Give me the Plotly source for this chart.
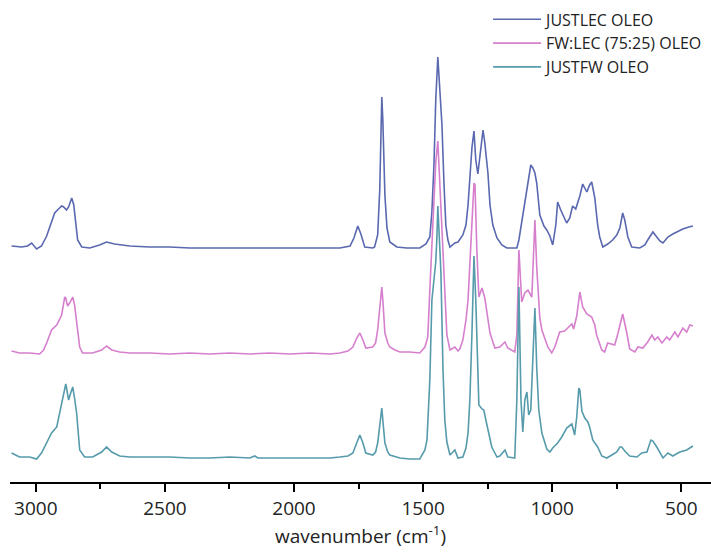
import plotly.graph_objects as go

# ---- JUSTLEC OLEO (top trace, offset intensities, arbitrary units) ----
lec_wn = [3094, 3055, 3032, 3016, 2997, 2978, 2958, 2939, 2927, 2916, 2900, 2892, 2881, 2873, 2861, 2853,
          2846, 2838, 2822, 2791, 2753, 2726, 2695, 2636, 2559, 2482, 2404, 2327, 2249, 2171, 2094, 2016,
          1938, 1861, 1822, 1783, 1768, 1753, 1741, 1726, 1695, 1688, 1676, 1668, 1660, 1656, 1648, 1640,
          1629, 1602, 1563, 1513, 1489, 1474, 1466, 1458, 1451, 1443, 1435, 1427, 1419, 1412, 1404, 1396,
          1377, 1365, 1346, 1334, 1326, 1319, 1311, 1303, 1296, 1288, 1280, 1268, 1261, 1249, 1241, 1230,
          1214, 1195, 1176, 1137, 1129, 1118, 1106, 1094, 1083, 1075, 1067, 1060, 1048, 1032, 1021, 1009,
          998, 986, 979, 967, 955, 944, 932, 921, 909, 893, 882, 866, 855, 847, 835, 824,
          816, 804, 785, 766, 750, 738, 727, 719, 707, 692, 661, 641, 630, 610, 595, 583,
          571, 552, 533, 517, 494, 471, 455]
lec_int = [236, 235, 236, 239, 233, 236, 246, 260, 269, 272, 276, 275, 272, 275, 284, 277,
           257, 242, 235, 234, 237, 240, 238, 236, 235, 235, 234, 234, 234, 234, 234, 234,
           234, 234, 234, 236, 244, 256, 248, 235, 234, 235, 247, 292, 385, 362, 287, 254,
           240, 235, 234, 234, 238, 245, 270, 317, 382, 425, 392, 357, 297, 257, 242, 235,
           239, 240, 247, 257, 277, 307, 334, 351, 322, 308, 324, 352, 339, 309, 277, 257,
           244, 237, 234, 234, 242, 259, 279, 297, 317, 314, 309, 299, 267, 256, 252, 246,
           237, 257, 280, 272, 265, 259, 264, 276, 273, 286, 298, 290, 297, 300, 284, 257,
           245, 235, 238, 242, 247, 254, 269, 262, 245, 235, 234, 237, 242, 250, 245, 241,
           239, 245, 248, 250, 253, 255, 256]

# ---- FW:LEC (75:25) OLEO (middle trace) ----
mix_wn = [3094, 3063, 3024, 2985, 2970, 2958, 2939, 2919, 2900, 2888, 2884, 2877, 2869, 2857, 2850, 2842,
          2830, 2819, 2780, 2745, 2726, 2706, 2675, 2636, 2559, 2482, 2404, 2327, 2249, 2171, 2094, 2016,
          1938, 1861, 1822, 1791, 1772, 1757, 1745, 1733, 1722, 1695, 1684, 1676, 1668, 1660, 1656, 1648,
          1637, 1629, 1609, 1590, 1552, 1513, 1493, 1482, 1474, 1466, 1458, 1451, 1443, 1435, 1427, 1419,
          1408, 1396, 1377, 1365, 1358, 1346, 1334, 1326, 1319, 1311, 1303, 1299, 1292, 1284, 1272, 1261,
          1249, 1241, 1222, 1203, 1183, 1172, 1145, 1137, 1129, 1121, 1118, 1106, 1094, 1079, 1072, 1067,
          1060, 1048, 1040, 1029, 1017, 1002, 990, 971, 952, 940, 924, 917, 905, 893, 882, 866,
          847, 835, 828, 808, 797, 785, 766, 758, 746, 735, 727, 711, 700, 680, 668, 649,
          630, 614, 603, 591, 575, 556, 545, 525, 513, 494, 479, 467, 455]
mix_int = [131, 129, 129, 128, 132, 139, 152, 157, 167, 185, 184, 176, 179, 185, 177, 162,
           135, 129, 129, 132, 136, 132, 130, 129, 129, 128, 129, 128, 129, 128, 129, 128,
           129, 128, 129, 131, 135, 144, 149, 142, 134, 135, 139, 152, 177, 195, 182, 149,
           139, 135, 132, 130, 130, 129, 135, 145, 192, 242, 287, 320, 341, 297, 267, 212,
           147, 132, 135, 131, 133, 142, 162, 182, 217, 257, 299, 297, 232, 185, 194, 184,
           164, 149, 134, 135, 140, 134, 130, 147, 232, 197, 180, 189, 192, 185, 222, 262,
           215, 164, 152, 144, 135, 129, 135, 150, 151, 154, 158, 153, 166, 190, 175, 168,
           165, 157, 147, 132, 130, 139, 138, 137, 148, 160, 168, 149, 133, 130, 135, 134,
           140, 147, 142, 145, 139, 145, 142, 150, 145, 154, 150, 157, 156]

# ---- JUSTFW OLEO (bottom trace) ----
fw_wn = [3094, 3063, 3024, 2997, 2978, 2966, 2954, 2939, 2919, 2908, 2896, 2884, 2881, 2873, 2865, 2857,
         2850, 2842, 2830, 2811, 2780, 2745, 2726, 2706, 2675, 2636, 2559, 2482, 2404, 2327, 2249, 2171,
         2152, 2140, 2094, 2016, 1938, 1861, 1822, 1791, 1772, 1757, 1745, 1733, 1722, 1695, 1684, 1676,
         1668, 1660, 1656, 1648, 1637, 1629, 1590, 1552, 1513, 1493, 1485, 1482, 1474, 1466, 1458, 1451,
         1447, 1443, 1435, 1431, 1423, 1416, 1408, 1396, 1377, 1365, 1346, 1334, 1326, 1319, 1311, 1303,
         1296, 1292, 1284, 1272, 1265, 1257, 1241, 1234, 1214, 1203, 1183, 1172, 1145, 1137, 1129, 1121,
         1114, 1106, 1098, 1091, 1083, 1075, 1067, 1060, 1052, 1040, 1029, 1021, 1009, 998, 979, 963,
         944, 924, 913, 905, 897, 893, 885, 874, 862, 855, 843, 824, 808, 789, 769, 750,
         738, 731, 719, 700, 672, 653, 633, 618, 610, 595, 571, 552, 533, 506, 479, 455]
fw_int = [29, 25, 25, 23, 29, 35, 42, 49, 55, 69, 82, 98, 94, 82, 89, 95,
          84, 69, 32, 25, 25, 30, 35, 30, 26, 25, 25, 25, 24, 24, 25, 24,
          26, 24, 24, 24, 24, 24, 25, 26, 29, 39, 47, 39, 29, 27, 30, 39,
          57, 74, 62, 39, 30, 27, 24, 23, 23, 32, 42, 62, 102, 182, 207, 220,
          242, 276, 232, 209, 112, 62, 40, 27, 32, 24, 25, 34, 49, 82, 147, 226,
          182, 147, 77, 73, 72, 62, 44, 35, 25, 26, 32, 25, 24, 82, 195, 82,
          50, 82, 90, 67, 72, 122, 174, 115, 72, 49, 39, 33, 30, 34, 39, 45,
          54, 58, 47, 65, 94, 92, 71, 64, 60, 55, 42, 35, 26, 24, 27, 30,
          35, 35, 31, 26, 25, 29, 30, 42, 41, 35, 24, 29, 26, 30, 32, 36]

series_names = ["JUSTLEC OLEO", "FW:LEC (75:25) OLEO", "JUSTFW OLEO"]
series_colors = ["#5a68b0", "#d67fcd", "#569bab"]

x_ticks = [3000, 2500, 2000, 1500, 1000, 500]
x_ticklabels = ["3000", "2500", "2000", "1500", "1000", "500"]

fig = go.Figure()
for name, wn, inten, col in zip(series_names, [lec_wn, mix_wn, fw_wn],
                                [lec_int, mix_int, fw_int], series_colors):
    fig.add_trace(go.Scatter(x=wn, y=inten, mode="lines", name=name,
                             line=dict(color=col, width=1.6)))

font_family = "Open Sans, Noto Sans, sans-serif"
fig.update_layout(
    width=711, height=552,
    margin=dict(l=10, r=0, t=0, b=70),
    plot_bgcolor="white", paper_bgcolor="white",
    font=dict(family=font_family, color="#222222"),
    legend=dict(x=0.682, y=0.995, xref="paper", yref="paper",
                xanchor="left", yanchor="top",
                font=dict(family=font_family, size=16, color="#222222"),
                bgcolor="rgba(0,0,0,0)", itemwidth=48, tracegroupgap=0),
    xaxis=dict(range=[3100, 385], tickvals=x_ticks, ticktext=x_ticklabels,
               ticks="outside", ticklen=8, tickwidth=1.5, tickcolor="black",
               showline=True, linecolor="black", linewidth=2,
               showgrid=False, zeroline=False,
               tickfont=dict(family=font_family, size=19, color="#222222"),
               minor=dict(tickvals=[2750, 2250, 1750, 1250, 750], ticks="outside",
                          ticklen=5, tickwidth=1.5, tickcolor="black", showgrid=False),
               title=dict(text="wavenumber (cm<sup>-1</sup>)",
                          font=dict(family=font_family, size=19, color="#222222"),
                          standoff=8)),
    yaxis=dict(range=[0, 482], visible=False, showgrid=False, zeroline=False),
)

fig.write_html("out.html")
